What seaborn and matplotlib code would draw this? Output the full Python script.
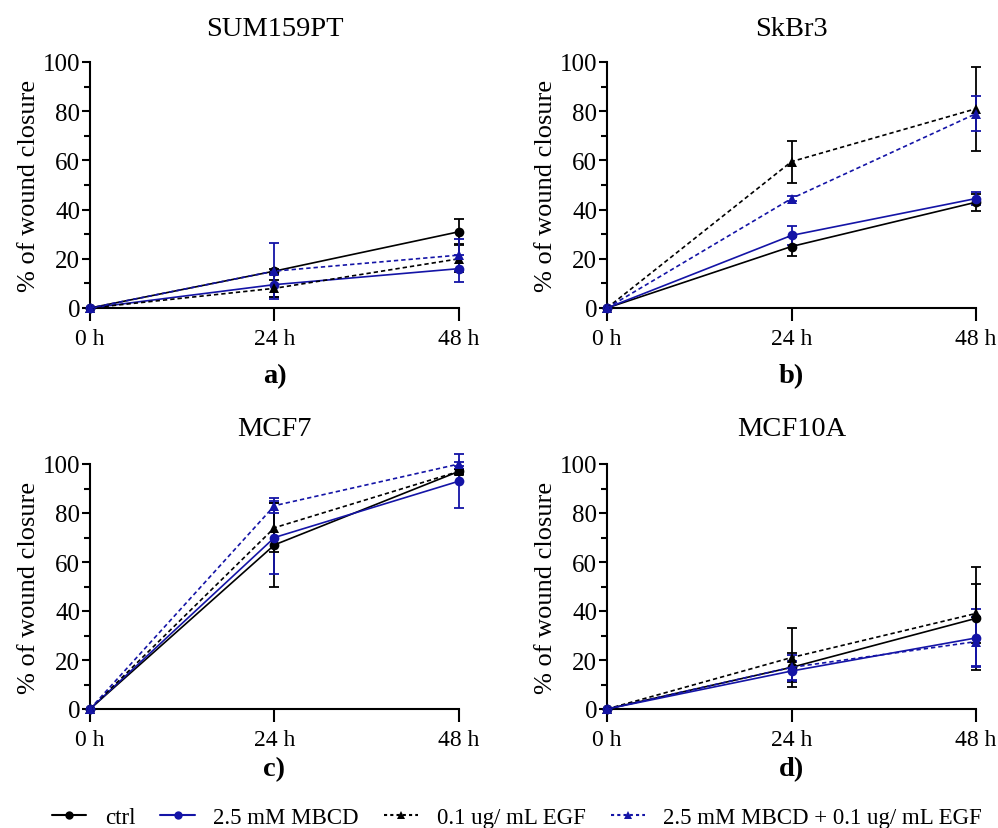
import numpy as np
import pandas as pd
import matplotlib
matplotlib.use('Agg')
import matplotlib.pyplot as plt
import seaborn as sns
from matplotlib.lines import Line2D
from matplotlib.ticker import MultipleLocator

# ---------------- data ----------------
times = [0, 24, 48]
time_labels = ['0 h', '24 h', '48 h']
panels = ['SUM159PT', 'SkBr3', 'MCF7', 'MCF10A']
panel_tags = ['a)', 'b)', 'c)', 'd)']
conditions = ['ctrl', '2.5 mM MBCD', '0.1 ug/ mL EGF', '2.5 mM MBCD + 0.1 ug/ mL EGF']

# SUM159PT
sum_ctrl = [0, 15, 31];     sum_ctrl_err = [0, 1, 5]
sum_mbcd = [0, 9.5, 16];    sum_mbcd_err = [0, 5, 5.5]
sum_egf = [0, 8, 20];       sum_egf_err = [0, 3.5, 5.5]
sum_both = [0, 15, 21.5];   sum_both_err = [0, 11.5, 6.5]
# SkBr3
skb_ctrl = [0, 25, 43];     skb_ctrl_err = [0, 4, 3.5]
skb_mbcd = [0, 29.5, 44.5]; skb_mbcd_err = [0, 4, 2.5]
skb_egf = [0, 59.5, 81];    skb_egf_err = [0, 8.5, 17]
skb_both = [0, 44.5, 79];   skb_both_err = [0, 1, 7]
# MCF7
mcf7_ctrl = [0, 67, 97];    mcf7_ctrl_err = [0, 17, 1]
mcf7_mbcd = [0, 70, 93];    mcf7_mbcd_err = [0, 15, 11]
mcf7_egf = [0, 74, 97];     mcf7_egf_err = [0, 10, 1]
mcf7_both = [0, 83, 100];   mcf7_both_err = [0, 3, 1]
# MCF10A
m10_ctrl = [0, 17, 37];     m10_ctrl_err = [0, 6, 21]
m10_mbcd = [0, 15.5, 29];   m10_mbcd_err = [0, 4, 12]
m10_egf = [0, 21, 39];      m10_egf_err = [0, 12, 12]
m10_both = [0, 17, 27.5];   m10_both_err = [0, 5, 10]

panel_means = [
    [sum_ctrl, sum_mbcd, sum_egf, sum_both],
    [skb_ctrl, skb_mbcd, skb_egf, skb_both],
    [mcf7_ctrl, mcf7_mbcd, mcf7_egf, mcf7_both],
    [m10_ctrl, m10_mbcd, m10_egf, m10_both],
]
panel_errs = [
    [sum_ctrl_err, sum_mbcd_err, sum_egf_err, sum_both_err],
    [skb_ctrl_err, skb_mbcd_err, skb_egf_err, skb_both_err],
    [mcf7_ctrl_err, mcf7_mbcd_err, mcf7_egf_err, mcf7_both_err],
    [m10_ctrl_err, m10_mbcd_err, m10_egf_err, m10_both_err],
]

rows = []
for p, means, errs in zip(panels, panel_means, panel_errs):
    for c, m, e in zip(conditions, means, errs):
        for t, mv, ev in zip(times, m, e):
            rows.append(dict(panel=p, condition=c, time=t, value=mv, err=ev))
df = pd.DataFrame(rows)

# ---------------- style ----------------
sns.set_style('ticks')
plt.rcParams['font.family'] = ['Liberation Serif', 'DejaVu Serif']
plt.rcParams['axes.linewidth'] = 1.5
for k in ['text.color', 'axes.labelcolor', 'xtick.color', 'ytick.color', 'axes.edgecolor']:
    plt.rcParams[k] = 'black'

BLACK = '#000000'
BLUE = '#1414a6'
palette = {conditions[0]: BLACK, conditions[1]: BLUE, conditions[2]: BLACK, conditions[3]: BLUE}
dashes = {conditions[0]: '', conditions[1]: '', conditions[2]: (2.6, 1.8), conditions[3]: (2.6, 1.8)}
markers = {conditions[0]: 'o', conditions[1]: 'o', conditions[2]: '^', conditions[3]: '^'}

fig = plt.figure(figsize=(9.98, 8.29), dpi=100)
W, H = 998, 829
lefts = [90, 607, 90, 607]
tops = [63, 63, 465, 465]
bottoms = [309, 309, 710, 710]
axw = 369
title_y = [29, 29, 430, 430]
tag_y = [377, 377, 770, 770]

for i, p in enumerate(panels):
    l, t, b = lefts[i], tops[i], bottoms[i]
    ax = fig.add_axes([l / W, 1 - b / H, axw / W, (b - t) / H])
    sub = df[df.panel == p]
    sns.lineplot(data=sub, x='time', y='value', hue='condition', style='condition',
                 palette=palette, dashes=dashes, markers=markers, hue_order=conditions,
                 style_order=conditions, ax=ax, legend=False, linewidth=1.2,
                 markersize=7, markeredgewidth=0, clip_on=False, zorder=3)
    for c in conditions:
        s = sub[(sub.condition == c) & (sub.err > 0)]
        ax.errorbar(s.time, s.value, yerr=s.err, fmt='none', ecolor=palette[c],
                    elinewidth=1.3, capsize=3.5, capthick=1.3, clip_on=False, zorder=2)
    ax.set_xlim(0, 48)
    ax.set_ylim(0, 100)
    ax.set_xticks(times)
    ax.set_xticklabels(time_labels)
    ax.yaxis.set_major_locator(MultipleLocator(20))
    ax.yaxis.set_minor_locator(MultipleLocator(10))
    ax.tick_params(axis='y', which='major', length=6, width=1.5, labelsize=18,
                   direction='out', pad=1)
    ax.tick_params(axis='y', which='minor', length=4, width=1.5)
    ax.tick_params(axis='x', which='major', length=9.5, width=1.5, labelsize=17,
                   direction='out', pad=5)
    ax.set_xlabel('')
    ax.set_ylabel('% of wound closure', fontsize=19, labelpad=2)
    sns.despine(ax=ax)
    fig.text((l + axw / 2) / W, 1 - title_y[i] / H, p, ha='center', va='center', fontsize=20.5)
    fig.text((l + axw / 2) / W, 1 - tag_y[i] / H, panel_tags[i], ha='center', va='center',
             fontsize=20.5, fontweight='bold')

handles = [Line2D([], [], color=palette[c], linestyle='-' if dashes[c] == '' else (0, (1.5, 1.5)),
                  marker=markers[c], markersize=6, linewidth=1.5, markeredgewidth=0)
           for c in conditions]
fig.legend(handles, conditions, loc='center', bbox_to_anchor=(517 / W, 1 - 818 / H), ncol=4,
           frameon=False, fontsize=16.5, handlelength=1.5, columnspacing=1.1,
           handletextpad=0.8, borderpad=0, borderaxespad=0)

fig.savefig('out.png', dpi=100)
